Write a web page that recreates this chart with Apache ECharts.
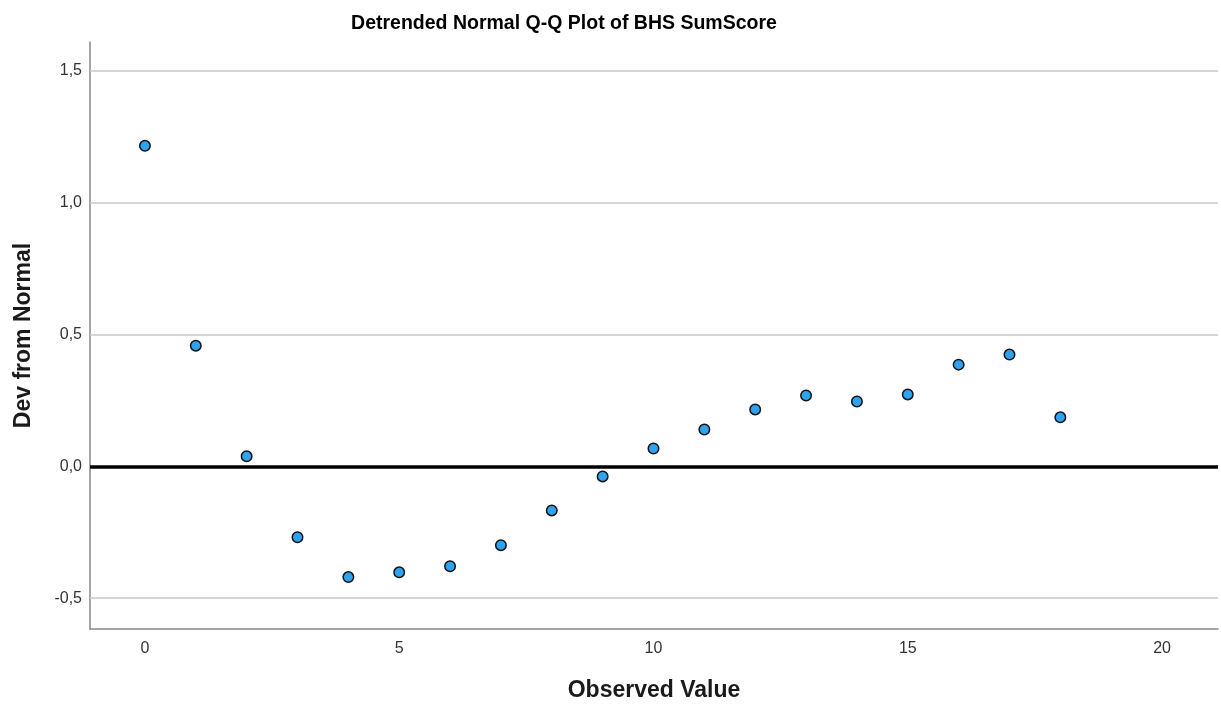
<!DOCTYPE html>
<html>
<head>
<meta charset="utf-8">
<script src="https://cdn.jsdelivr.net/npm/echarts@6/dist/echarts.min.js"></script>
<style>
html,body{margin:0;padding:0;background:#fff;}
#chart{width:1221px;height:707px;}
</style>
</head>
<body>
<div id="chart"></div>
<script>
const observed = [0,1,2,3,4,5,6,7,8,9,10,11,12,13,14,15,16,17,18];
const devFromNormal = [1.216,0.458,0.038,-0.269,-0.420,-0.402,-0.379,-0.299,-0.167,-0.038,0.068,0.140,0.216,0.269,0.246,0.273,0.386,0.424,0.186];
const xTicks = [0,5,10,15,20];
const yTicks = [-0.5,0,0.5,1.0,1.5];
const gridYLines = [-0.5,0.5,1.0,1.5];
const refLine = 0;

const FONT = 'Liberation Sans, Arial, sans-serif';
const chart = echarts.init(document.getElementById('chart'), null, {renderer:'canvas'});
chart.setOption({
  animation:false,
  backgroundColor:'#fff',
  title:{
    text:'Detrended Normal Q-Q Plot of BHS SumScore',
    left:559, top:9, textAlign:'center',
    textStyle:{fontFamily:FONT, fontWeight:'bold', fontSize:19.5, color:'#000'}
  },
  grid:{left:90, right:3, top:42, bottom:77},
  xAxis:{
    type:'value', min:-1.08, max:21.1,
    name:'Observed Value', nameLocation:'middle', nameGap:50,
    nameTextStyle:{fontFamily:FONT, fontWeight:'bold', fontSize:23, color:'#1a1a1a'},
    axisLine:{show:true, onZero:false, lineStyle:{color:'#888', width:1.5}},
    axisTick:{show:false, customValues:xTicks},
    splitLine:{show:false},
    axisLabel:{customValues:xTicks, margin:12, fontFamily:FONT, fontSize:16, color:'#333'}
  },
  yAxis:{
    type:'value', min:-0.617, max:1.61,
    name:'Dev from Normal', nameLocation:'middle', nameGap:55, nameRotate:90,
    nameTextStyle:{fontFamily:FONT, fontWeight:'bold', fontSize:23, color:'#1a1a1a'},
    axisLine:{show:true, onZero:false, lineStyle:{color:'#888', width:1.5}},
    axisTick:{show:false, customValues:yTicks},
    splitLine:{show:false},
    axisLabel:{customValues:yTicks, margin:8, fontFamily:FONT, fontSize:16, color:'#333',
      formatter:v => v.toFixed(1).replace('.', ',')}
  },
  series:[{
    type:'scatter',
    data:observed.map((x,i)=>[x, devFromNormal[i]]),
    symbol:'circle', symbolSize:10.5,
    itemStyle:{color:'#2ea3f2', borderColor:'#111', borderWidth:1.5, opacity:1},
    z:5,
    markLine:{
      silent:true, symbol:'none', label:{show:false},
      data:[
        ...gridYLines.map(v=>({yAxis:v, lineStyle:{color:'#c8c8c8', width:1.5, type:'solid'}})),
        {yAxis:refLine, lineStyle:{color:'#000', width:3.5, type:'solid'}}
      ],
      z:1
    }
  }]
});
</script>
</body>
</html>
